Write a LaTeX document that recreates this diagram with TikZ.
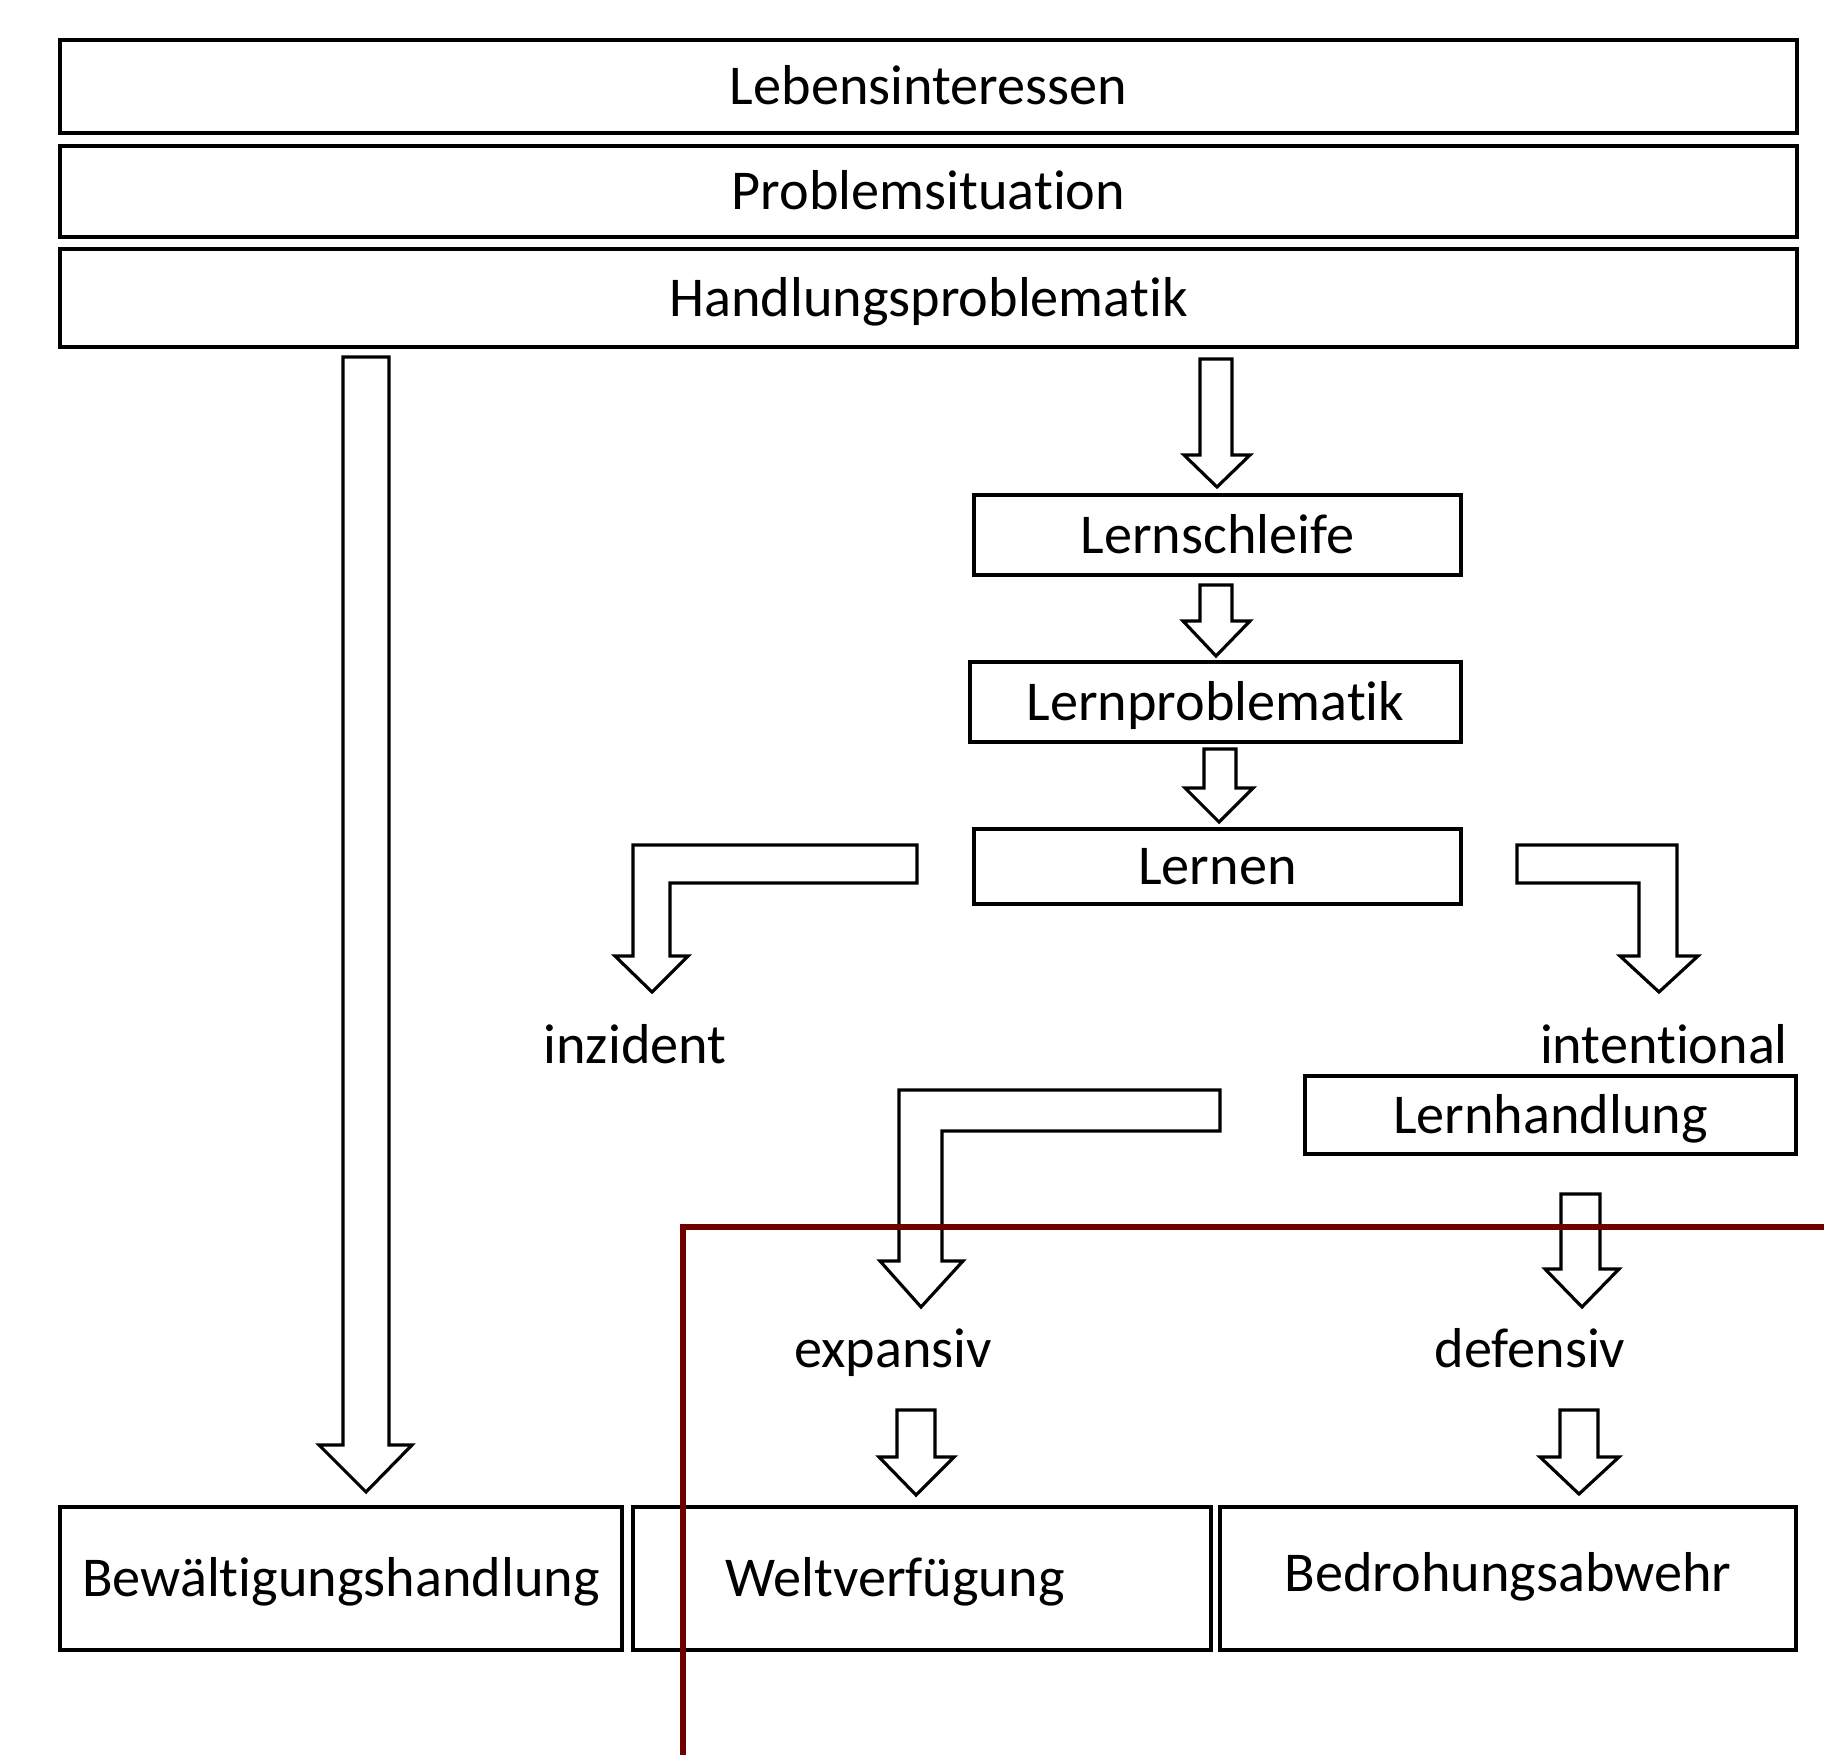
\documentclass[tikz,border=0pt]{standalone}
\usepackage{fontspec}
\setmainfont{Carlito}[Ligatures=NoCommon]
\usepackage{tkz-euclide}
\tikzset{>=stealth}
\tikzset{
  kasten/.style={draw, line width=1.1pt, inner sep=0pt, text height=10.3pt, text depth=0pt},
  pfeil/.style={draw=black, line width=0.9pt, line join=miter},
}
\definecolor{dunkelrot}{RGB}{112,0,0}

\begin{document}
\begin{tikzpicture}[font=\fontsize{16}{19}\selectfont]
\useasboundingbox (0,0) rectangle (18.24,-17.55);
% Kaesten
\node[kasten, minimum width=17.37cm, minimum height=0.93cm] (leben) at (9.285,-0.865) {Lebensinteressen};
\node[kasten, minimum width=17.37cm, minimum height=0.91cm] (problem) at (9.285,-1.915) {Problemsituation};
\node[kasten, minimum width=17.37cm, minimum height=0.98cm] (handlung) at (9.285,-2.98) {Handlungsproblematik};
\node[kasten, minimum width=4.87cm, minimum height=0.80cm] (schleife) at (12.175,-5.35) {Lernschleife};
\node[kasten, minimum width=4.91cm, minimum height=0.80cm] (lernprob) at (12.155,-7.02) {Lernproblematik};
\node[kasten, minimum width=4.87cm, minimum height=0.75cm] (lernen) at (12.175,-8.665) {Lernen};
\node[kasten, minimum width=4.91cm, minimum height=0.78cm] (lernhandl) at (15.505,-11.15) {Lernhandlung};
\node[kasten, minimum width=5.62cm, minimum height=1.43cm] (bewaelt) at (3.41,-15.785) {Bewältigungshandlung};
\node[kasten, minimum width=5.78cm, minimum height=1.43cm] (welt) at (9.22,-15.785) {Weltverfügung\hspace*{0.54cm}};
\node[kasten, minimum width=5.76cm, minimum height=1.43cm] (bedroh) at (15.08,-15.785) {\raisebox{0.05cm}{Bedrohungsabwehr}};
% Beschriftungen
\node[anchor=base] (inzident) at (6.35,-10.63) {inzident};
\node[anchor=base] (intentional) at (16.64,-10.63) {intentional};
\node[anchor=base] (expansiv) at (8.93,-13.67) {expansiv};
\node[anchor=base] (defensiv) at (15.30,-13.67) {defensiv};
% Blockpfeile
\tkzDefPoints{3.43/-3.57/A1, 3.89/-3.57/A2, 3.89/-14.45/A3, 4.12/-14.45/A4, 3.66/-14.92/A5, 3.19/-14.45/A6, 3.43/-14.45/A7}
\tkzDefPoints{12.00/-3.59/B1, 12.32/-3.59/B2, 12.32/-4.55/B3, 12.50/-4.55/B4, 12.17/-4.87/B5, 11.84/-4.55/B6, 12.00/-4.55/B7}
\tkzDefPoints{12.00/-5.85/C1, 12.32/-5.85/C2, 12.32/-6.21/C3, 12.50/-6.21/C4, 12.16/-6.56/C5, 11.83/-6.21/C6, 12.00/-6.21/C7}
\tkzDefPoints{12.04/-7.49/D1, 12.36/-7.49/D2, 12.36/-7.88/D3, 12.53/-7.88/D4, 12.19/-8.22/D5, 11.85/-7.88/D6, 12.04/-7.88/D7}
\tkzDefPoints{9.17/-8.45/E1, 6.33/-8.45/E2, 6.33/-9.56/E3, 6.15/-9.56/E4, 6.52/-9.92/E5, 6.88/-9.56/E6, 6.70/-9.56/E7, 6.70/-8.83/E8, 9.17/-8.83/E9}
\tkzDefPoints{15.17/-8.45/F1, 16.77/-8.45/F2, 16.77/-9.56/F3, 16.98/-9.56/F4, 16.59/-9.92/F5, 16.20/-9.56/F6, 16.39/-9.56/F7, 16.39/-8.83/F8, 15.17/-8.83/F9}
\tkzDefPoints{12.20/-10.90/G1, 8.99/-10.90/G2, 8.99/-12.61/G3, 8.80/-12.61/G4, 9.21/-13.07/G5, 9.63/-12.61/G6, 9.42/-12.61/G7, 9.42/-11.31/G8, 12.20/-11.31/G9}
\tkzDefPoints{15.61/-11.94/H1, 16.00/-11.94/H2, 16.00/-12.69/H3, 16.19/-12.69/H4, 15.82/-13.07/H5, 15.45/-12.69/H6, 15.61/-12.69/H7}
\tkzDefPoints{8.97/-14.10/I1, 9.35/-14.10/I2, 9.35/-14.57/I3, 9.54/-14.57/I4, 9.16/-14.95/I5, 8.79/-14.57/I6, 8.97/-14.57/I7}
\tkzDefPoints{15.60/-14.10/J1, 15.98/-14.10/J2, 15.98/-14.57/J3, 16.19/-14.57/J4, 15.79/-14.94/J5, 15.40/-14.57/J6, 15.60/-14.57/J7}
\tkzDrawPolygon[pfeil](A1,A2,A3,A4,A5,A6,A7)
\tkzDrawPolygon[pfeil](B1,B2,B3,B4,B5,B6,B7)
\tkzDrawPolygon[pfeil](C1,C2,C3,C4,C5,C6,C7)
\tkzDrawPolygon[pfeil](D1,D2,D3,D4,D5,D6,D7)
\tkzDrawPolygon[pfeil](E1,E2,E3,E4,E5,E6,E7,E8,E9)
\tkzDrawPolygon[pfeil](F1,F2,F3,F4,F5,F6,F7,F8,F9)
\tkzDrawPolygon[pfeil](G1,G2,G3,G4,G5,G6,G7,G8,G9)
\tkzDrawPolygon[pfeil](H1,H2,H3,H4,H5,H6,H7)
\tkzDrawPolygon[pfeil](I1,I2,I3,I4,I5,I6,I7)
\tkzDrawPolygon[pfeil](J1,J2,J3,J4,J5,J6,J7)
% rote Linie
\tkzDefPoints{18.24/-12.27/R1, 6.83/-12.27/R2, 6.83/-17.55/R3}
\draw[dunkelrot, line width=1.7pt] (R1) -- (R2) -- (R3);
\end{tikzpicture}
\end{document}
